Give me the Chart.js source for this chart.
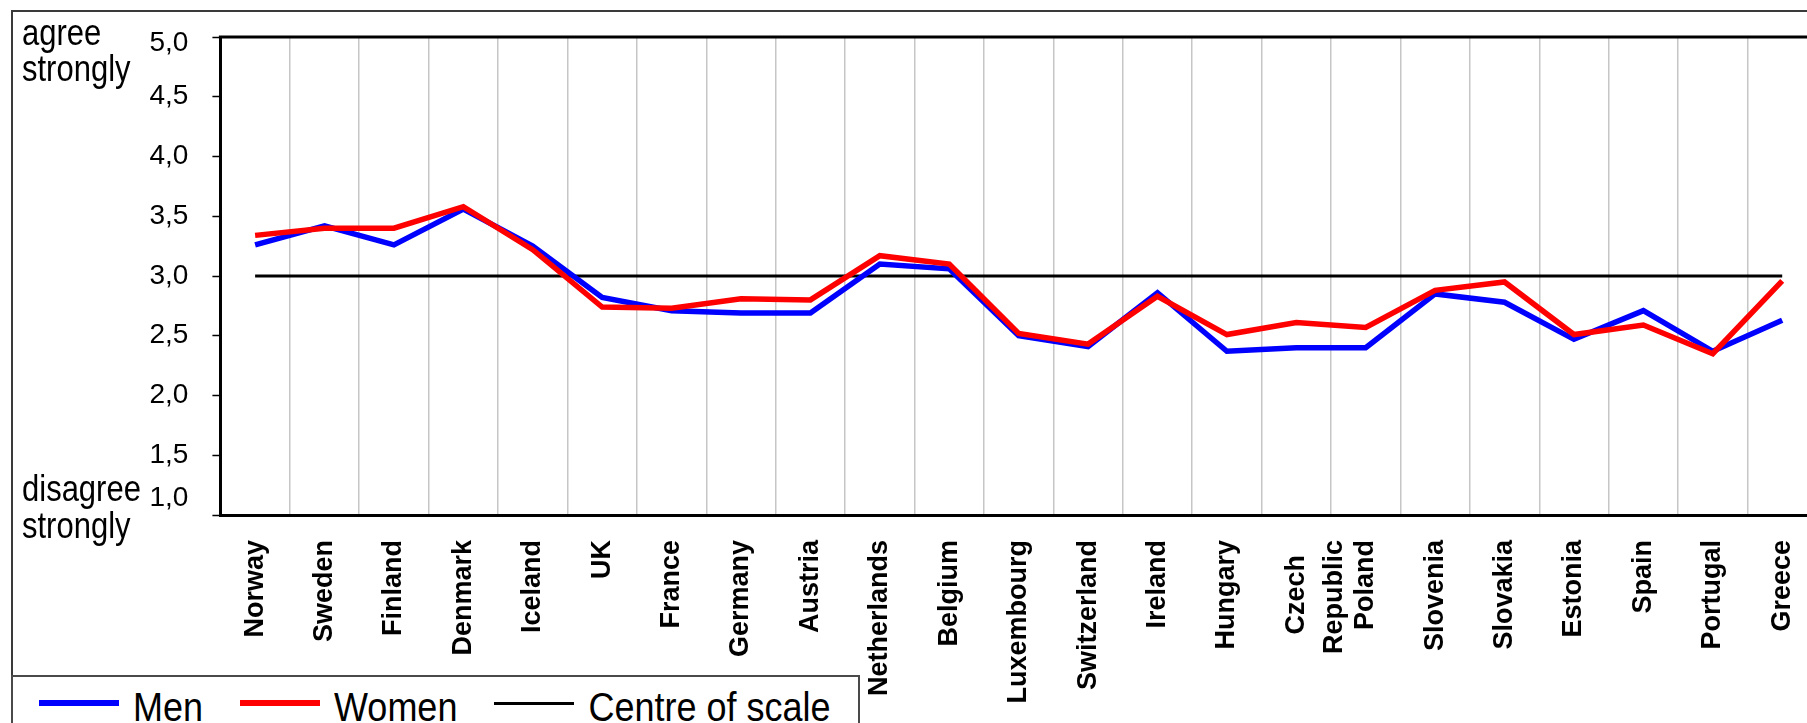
<!DOCTYPE html>
<html>
<head>
<meta charset="utf-8">
<title>Agreement by country, men and women</title>
<script src="https://cdn.jsdelivr.net/npm/chart.js@4.4.1/dist/chart.umd.min.js"></script>
<style>
  html, body { margin: 0; padding: 0; width: 1807px; height: 723px; overflow: hidden; background: #fff; }
  body { position: relative; font-family: "Liberation Sans", Arial, sans-serif; color: #000; }
  #frame { position: absolute; left: 11px; top: 10px; width: 1900px; height: 800px; border: 2px solid #3a3a3a; box-sizing: border-box; }
  #wrap { position: absolute; left: 0; top: 0; width: 1840px; height: 723px; }
  .side { position: absolute; left: 22px; font-size: 31px; line-height: 30.5px; white-space: nowrap;
          transform: scaleY(1.18); transform-origin: 0 0; }
  #legendBox { position: absolute; left: 11px; top: 675px; width: 849px; height: 80px; border: 2px solid #4a4a4a; box-sizing: border-box; background: #fff; }
  #legendItems { position: absolute; left: 39px; top: 690.5px; height: 36px; display: flex; align-items: flex-start; }
  .item { display: flex; align-items: flex-start; margin-right: 37px; }
  .swatch { width: 80px; margin-right: 14px; }
  .label { display: inline-block; font-size: 36px; line-height: 36px; white-space: nowrap;
           transform: scaleY(1.15); transform-origin: 0 30.5px; }
</style>
</head>
<body>
<div id="frame"></div>
<div id="wrap"><canvas id="chart" width="1840" height="723"></canvas></div>
<div class="side" style="top:15px">agree<br>strongly</div>
<div class="side" style="top:472px">disagree<br>strongly</div>
<div id="legendBox"></div>
<div id="legendItems"></div>

<script>
// Countries along the horizontal axis
const countries = ['Norway', 'Sweden', 'Finland', 'Denmark', 'Iceland', 'UK', 'France', 'Germany',
  'Austria', 'Netherlands', 'Belgium', 'Luxembourg', 'Switzerland', 'Ireland', 'Hungary',
  ['Czech  ', 'Republic'], 'Poland', 'Slovenia', 'Slovakia', 'Estonia', 'Spain', 'Portugal', 'Greece'];

// Mean agreement, 1 = disagree strongly, 5 = agree strongly
const men = [3.26, 3.42, 3.26, 3.56, 3.25, 2.82, 2.71, 2.69, 2.69, 3.10, 3.06, 2.50,
  2.41, 2.86, 2.37, 2.40, 2.40, 2.85, 2.78, 2.47, 2.71, 2.37, 2.63];
const women = [3.34, 3.40, 3.40, 3.58, 3.22, 2.74, 2.73, 2.81, 2.80, 3.17, 3.10, 2.52,
  2.43, 2.83, 2.51, 2.61, 2.57, 2.88, 2.95, 2.51, 2.59, 2.35, 2.96];
const centreOfScale = [3.0, 3.0, 3.0, 3.0, 3.0, 3.0, 3.0, 3.0, 3.0, 3.0, 3.0, 3.0,
  3.0, 3.0, 3.0, 3.0, 3.0, 3.0, 3.0, 3.0, 3.0, 3.0, 3.0];

// Value axis
const yMin = 1.0;
const yMax = 5.0;
const yStep = 0.5;

const FONT = '"Liberation Sans", Arial, sans-serif';
const Y_FONT_SIZE = 28;

// Thick black line along the top of the plot area
const topBorder = {
  id: 'topBorder',
  afterDraw(chart) {
    const { ctx, chartArea } = chart;
    ctx.save();
    ctx.strokeStyle = '#000';
    ctx.lineWidth = 3;
    ctx.beginPath();
    ctx.moveTo(chartArea.left - 1.5, chartArea.top);
    ctx.lineTo(chartArea.right, chartArea.top);
    ctx.stroke();
    ctx.restore();
  }
};

const fmt = (v) => Number(v).toFixed(1).replace('.', ',');

const chart = new Chart(document.getElementById('chart'), {
  type: 'line',
  data: {
    labels: countries,
    datasets: [
      { label: 'Men', data: men, borderColor: '#0000ff', backgroundColor: '#0000ff', borderWidth: 5.5, order: 1 },
      { label: 'Women', data: women, borderColor: '#ff0000', backgroundColor: '#ff0000', borderWidth: 5.5, order: 0 },
      { label: 'Centre of scale', data: centreOfScale, borderColor: '#000000', backgroundColor: '#000000', borderWidth: 3, order: 2 }
    ]
  },
  options: {
    responsive: false,
    animation: false,
    events: [],
    layout: { padding: { left: 0, right: 18.4, top: 35, bottom: 0 } },
    elements: {
      point: { radius: 0, hoverRadius: 0 },
      line: { tension: 0, fill: false, borderCapStyle: 'butt', borderJoinStyle: 'miter' }
    },
    plugins: { legend: { display: false }, tooltip: { enabled: false }, title: { display: false } },
    scales: {
      x: {
        type: 'category',
        offset: true,
        grid: { offset: true, color: '#c6c6c6', lineWidth: 1.5, drawTicks: false },
        border: { display: true, color: '#000', width: 3 },
        ticks: {
          autoSkip: false, minRotation: 90, maxRotation: 90, padding: 25, color: '#000',
          font: (ctx) => ({ family: FONT, size: 27, weight: 'bold', lineHeight: Array.isArray(countries[ctx.index]) ? 1.4 : 1.2 })
        },
        afterFit(scale) { scale.height = 208; }
      },
      y: {
        min: yMin, max: yMax,
        grid: { drawOnChartArea: false, drawTicks: true, tickLength: 8, tickColor: '#000', tickWidth: 1.5 },
        border: { display: true, color: '#000', width: 3 },
        ticks: {
          stepSize: yStep, autoSkip: false, padding: 24, color: '#000',
          // the end labels sit a little inside the frame: a blank companion line nudges them
          font: (ctx) => {
            const v = ctx.tick ? ctx.tick.value : null;
            let lh = 1.2;
            if (v === yMin) lh = 34 / Y_FONT_SIZE;
            if (v === yMax) lh = 13 / Y_FONT_SIZE;
            return { family: FONT, size: Y_FONT_SIZE, lineHeight: lh };
          },
          callback: (v) => {
            if (v === yMin) return [fmt(v), ''];
            if (v === yMax) return ['', fmt(v)];
            return fmt(v);
          }
        },
        afterFit(scale) { scale.width = 220.4; }
      }
    }
  },
  plugins: [topBorder]
});

// Legend built from the datasets' own colours and widths
const legendItems = document.getElementById('legendItems');
chart.data.datasets.forEach((ds) => {
  const item = document.createElement('div');
  item.className = 'item';
  const sw = document.createElement('div');
  sw.className = 'swatch';
  sw.style.height = ds.borderWidth + 'px';
  sw.style.marginTop = (703 - ds.borderWidth / 2 - 690.5) + 'px';
  sw.style.background = ds.borderColor;
  const tx = document.createElement('span');
  tx.className = 'label';
  tx.textContent = ds.label;
  item.appendChild(sw);
  item.appendChild(tx);
  legendItems.appendChild(item);
});
</script>
</body>
</html>
